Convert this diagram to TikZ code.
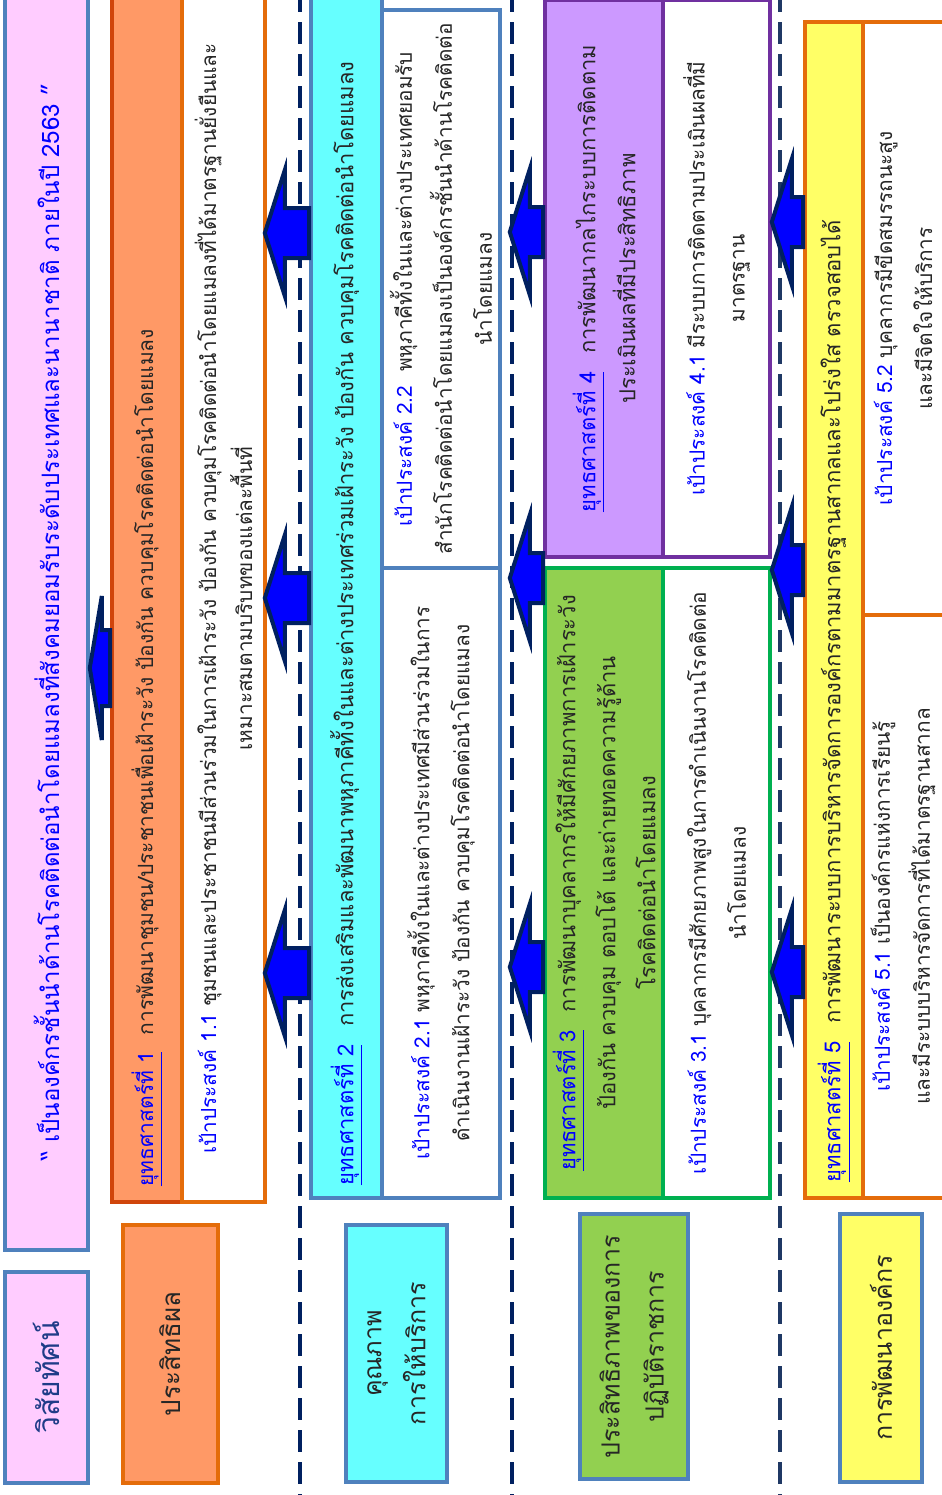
\documentclass[tikz,border=0pt]{standalone}
\usepackage{fontspec}
\newfontfamily\thaifont[Script=Thai]{Loma}
\usetikzlibrary{positioning, fit, calc}
\usepackage{xcolor}
\definecolor{visionpink}{HTML}{FFCCFF}
\definecolor{frameblue}{HTML}{4F81BD}
\definecolor{textblue}{HTML}{0000FF}
\definecolor{labelnavy}{HTML}{1F3C88}
\definecolor{orangefill}{HTML}{FF9966}
\definecolor{orangeedge}{HTML}{E46C0A}
\definecolor{rededge}{HTML}{D0450B}
\definecolor{cyanfill}{HTML}{66FFFF}
\definecolor{greenfill}{HTML}{92D050}
\definecolor{greenedge}{HTML}{00B050}
\definecolor{purplefill}{HTML}{CC99FF}
\definecolor{purpleedge}{HTML}{7030A0}
\definecolor{yellowfill}{HTML}{FFFF66}
\definecolor{arrowblue}{HTML}{0000FF}
\definecolor{arrownavy}{HTML}{002060}
\definecolor{dividernavy}{HTML}{002060}
\definecolor{dividergrey}{HTML}{1F3864}

\newcommand{\headlen}{10pt}
\newcommand{\headhalf}{31.5pt}
\newcommand{\shafthalf}{12.5pt}
% block arrow from the west side of #1 to the east side of #2 at height #3, tip moved by #4
\newcommand{\blockarrow}[4]{%
  \path[blockarrow] let \p1=(#2.east |- 0,#3), \p2=(#1.west |- 0,#3) in
    (\x1+#4,\y1) -- (\x1+#4+\headlen,\y1+\headhalf) -- (\x1+#4+\headlen,\y1+\shafthalf)
    -- (\x2,\y1+\shafthalf) -- (\x2,\y1-\shafthalf) -- (\x1+#4+\headlen,\y1-\shafthalf)
    -- (\x1+#4+\headlen,\y1-\headhalf) -- cycle;}
\newcommand{\stratno}[1]{\textcolor{textblue}{\underline{ยุทธศาสตร์ที่ #1}}\hspace{0.8em}}
\newcommand{\goalno}[1]{\textcolor{textblue}{เป้าประสงค์ #1}\ }

\begin{document}
\begin{tikzpicture}[x=0.5pt, y=-0.5pt,
    panel/.style={line width=1.8pt, inner sep=0pt},
    rotext/.style={rotate=90, align=center, inner sep=0pt, text=black!85,
      font=\thaifont\fontsize{11}{20}\selectfont},
    goaltext/.style={rotext, font=\thaifont\fontsize{10.4}{20}\selectfont},
    heading/.style={rotext, anchor=west},
    sidelabel/.style={rotext, font=\thaifont\fontsize{12.5}{22}\selectfont},
    divider/.style={line width=2.4pt, dash pattern=on 11pt off 5pt},
    blockarrow/.style={fill=arrowblue, draw=arrownavy, line width=2pt, line join=miter}]

\useasboundingbox (0,0) rectangle (942,1495);

% dashed separators
\draw[divider, draw=dividernavy] (300,-10) -- (300,1505);
\draw[divider, draw=dividernavy] (512,-10) -- (512,1505);
\draw[divider, draw=dividergrey] (780,-10) -- (780,1505);

% vision
\node[panel, draw=frameblue, fill=visionpink, fit={(5,-5) (88,1250)}] (vision) {};
\node[panel, draw=frameblue, fill=visionpink, fit={(5,1272) (88,1483)}] (visionlbl) {};

% row 1
\node[panel, draw=rededge, fill=orangefill, fit={(112,-5) (182,1202)}] (s1) {};
\node[panel, draw=orangeedge, fill=white, fit={(182,-5) (265,1202)}] (g11) {};
\node[panel, draw=orangeedge, fill=orangefill, fit={(123,1225) (218,1483)}] (lbl1) {};

% row 2
\node[panel, draw=frameblue, fill=cyanfill, fit={(311,-5) (382,1198)}] (s2) {};
\node[panel, draw=frameblue, fill=white, fit={(382,10) (500,568)}] (g22) {};
\node[panel, draw=frameblue, fill=white, fit={(382,568) (500,1198)}] (g21) {};
\node[panel, draw=frameblue, fill=cyanfill, fit={(346,1225) (447,1482)}] (lbl2) {};

% row 3
\node[panel, draw=purpleedge, fill=purplefill, fit={(545,0) (663,557)}] (s4) {};
\node[panel, draw=purpleedge, fill=white, fit={(663,0) (770,557)}] (g41) {};
\node[panel, draw=greenedge, fill=greenfill, fit={(545,568) (663,1198)}] (s3) {};
\node[panel, draw=greenedge, fill=white, fit={(663,568) (770,1198)}] (g31) {};
\node[panel, draw=frameblue, fill=greenfill, fit={(580,1214) (688,1479)}] (lbl3) {};

% row 4
\node[panel, draw=orangeedge, fill=yellowfill, fit={(805,22) (863,1198)}] (s5) {};
\node[panel, draw=orangeedge, fill=white, fit={(863,22) (955,615)}] (g52) {};
\node[panel, draw=orangeedge, fill=white, fit={(863,615) (955,1198)}] (g51) {};
\node[panel, draw=frameblue, fill=yellowfill, fit={(840,1214) (922,1482)}] (lbl4) {};

% arrows
{\renewcommand{\headlen}{6pt}\renewcommand{\headhalf}{36pt}\renewcommand{\shafthalf}{19pt}
 \blockarrow{s1}{vision}{668}{0pt}}
\blockarrow{s2}{g11}{233}{-1pt}
\blockarrow{s2}{g11}{598}{-1pt}
\blockarrow{s2}{g11}{973}{-1pt}
\blockarrow{s4}{g22}{232}{4pt}
\blockarrow{s3}{g21}{578}{4pt}
\blockarrow{s3}{g21}{967}{4pt}
\blockarrow{s5}{g41}{222}{0pt}
\blockarrow{s5}{g31}{570}{0pt}
\blockarrow{s5}{g31}{972}{0pt}

% texts
\node[rotext, text=textblue, font=\thaifont\fontsize{12}{16}\selectfont] (visiontxt) at (vision.center)
  {“ เป็นองค์กรชั้นนำด้านโรคติดต่อนำโดยแมลงที่สังคมยอมรับระดับประเทศและนานาชาติ ภายในปี 2563 ”};
\node[sidelabel, text=labelnavy, font=\thaifont\fontsize{15}{22}\selectfont] (visionlbltxt) at (visionlbl.center) {วิสัยทัศน์};

\node[heading, font=\thaifont\fontsize{10.5}{20}\selectfont] (s1txt) at ($(s1.south)+(0,-17)$)
  {\stratno{1}การพัฒนาชุมชน/ประชาชนเพื่อเฝ้าระวัง ป้องกัน ควบคุมโรคติดต่อนำโดยแมลง};
\node[goaltext, font=\thaifont\fontsize{10.4}{18}\selectfont] (g11txt) at (g11.center)
  {\goalno{1.1}ชุมชนและประชาชนมีส่วนร่วมในการเฝ้าระวัง ป้องกัน ควบคุมโรคติดต่อนำโดยแมลงที่ได้มาตรฐานยั่งยืนและ\\
   เหมาะสมตามบริบทของแต่ละพื้นที่};
\node[sidelabel, font=\thaifont\fontsize{13}{22}\selectfont] (lbl1txt) at (lbl1.center) {ประสิทธิผล};

\node[heading] (s2txt) at ($(s2.south)+(0,-14)$)
  {\stratno{2}การส่งเสริมและพัฒนาพหุภาคีทั้งในและต่างประเทศร่วมเฝ้าระวัง ป้องกัน ควบคุมโรคติดต่อนำโดยแมลง};
\node[goaltext] (g21txt) at (g21.center)
  {\goalno{2.1}พหุภาคีทั้งในและต่างประเทศมีส่วนร่วมในการ\\
   ดำเนินงานเฝ้าระวัง ป้องกัน ควบคุมโรคติดต่อนำโดยแมลง};
\node[goaltext] (g22txt) at (g22.center)
  {\goalno{2.2}\ พหุภาคีทั้งในและต่างประเทศยอมรับ\\
   สำนักโรคติดต่อนำโดยแมลงเป็นองค์กรชั้นนำด้านโรคติดต่อ\\
   นำโดยแมลง};
\node[sidelabel] (lbl2txt) at (lbl2.center) {คุณภาพ\\การให้บริการ};

\node[rotext] (s3txt) at (s3.center)
  {\stratno{3}การพัฒนาบุคลากรให้มีศักยภาพการเฝ้าระวัง\\
   ป้องกัน ควบคุม ตอบโต้ และถ่ายทอดความรู้ด้าน\\
   โรคติดต่อนำโดยแมลง};
\node[goaltext] (g31txt) at (g31.center)
  {\goalno{3.1}บุคลากรมีศักยภาพสูงในการดำเนินงานโรคติดต่อ\\
   นำโดยแมลง};
\node[rotext] (s4txt) at (s4.center)
  {\stratno{4}การพัฒนากลไกระบบการติดตาม\\
   ประเมินผลที่มีประสิทธิภาพ};
\node[goaltext] (g41txt) at (g41.center)
  {\goalno{4.1}มีระบบการติดตามประเมินผลที่มี\\
   มาตรฐาน};
\node[sidelabel] (lbl3txt) at (lbl3.center) {ประสิทธิภาพของการ\\ปฏิบัติราชการ};

\node[heading] (s5txt) at ($(s5.south)+(0,-17)$)
  {\stratno{5}การพัฒนาระบบการบริหารจัดการองค์กรตามมาตรฐานสากลและโปร่งใส ตรวจสอบได้};
\node[goaltext] (g51txt) at ($(g51.center)+(-6,0)$)
  {\goalno{5.1}เป็นองค์กรแห่งการเรียนรู้\\
   และมีระบบบริหารจัดการที่ได้มาตรฐานสากล};
\node[goaltext] (g52txt) at ($(g52.center)+(-6,0)$)
  {\goalno{5.2}บุคลากรมีขีดสมรรถนะสูง\\
   และมีจิตใจให้บริการ};
\node[sidelabel] (lbl4txt) at (lbl4.center) {การพัฒนาองค์กร};
\end{tikzpicture}
\end{document}
